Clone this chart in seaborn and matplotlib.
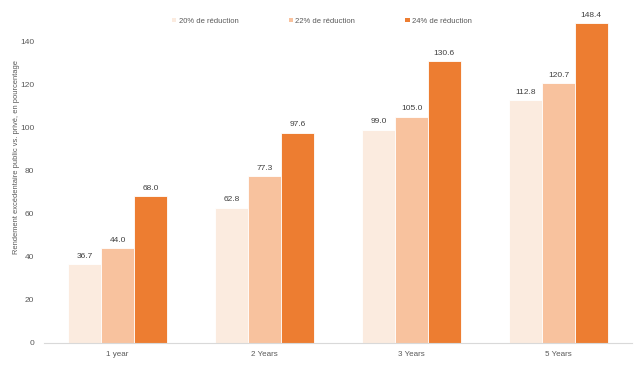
import matplotlib
matplotlib.use("Agg")
import matplotlib.pyplot as plt
import seaborn as sns
import pandas as pd
from matplotlib.patches import Patch

categories = ["1 year", "2 Years", "3 Years", "5 Years"]
series_names = ["20% de réduction", "22% de réduction", "24% de réduction"]
s20 = [36.7, 62.8, 99.0, 112.8]
s22 = [44.0, 77.3, 105.0, 120.7]
s24 = [68.0, 97.6, 130.6, 148.4]
colors = ["#FBEBDF", "#F8C29E", "#ED7D31"]
ylabel = "Rendement excédentaire public vs. privé, en pourcentage"

rows = []
for name, vals in zip(series_names, [s20, s22, s24]):
    for c, v in zip(categories, vals):
        rows.append({"cat": c, "series": name, "val": v})
df = pd.DataFrame(rows)

sns.set_style("white")
plt.rcParams["font.family"] = ["Liberation Sans", "DejaVu Sans"]

fig = plt.figure(figsize=(6.4, 3.69), dpi=100)
ax = fig.add_axes([0.069, 0.0705, 0.9185, 0.935])
sns.barplot(data=df, x="cat", y="val", hue="series", palette=colors,
            hue_order=series_names, order=categories, width=0.67,
            saturation=1, edgecolor="white", linewidth=0.6, ax=ax, legend=False)

for cont in ax.containers:
    ax.bar_label(cont, fmt="%.1f", fontsize=6, color="#404040", padding=3)

ax.set_ylim(0, 160)
ax.set_yticks(range(0, 161, 20))
ax.tick_params(axis="y", labelsize=6, labelcolor="#595959", length=0, pad=7)
ax.tick_params(axis="x", labelsize=5.8, labelcolor="#595959", length=0, pad=6)
ax.set_xlabel("")
ax.set_ylabel(ylabel, fontsize=5.4, color="#595959")
ax.yaxis.set_label_coords(-0.041, 0.539)
for s in ["top", "right", "left"]:
    ax.spines[s].set_visible(False)
ax.spines["bottom"].set_color("#D9D9D9")
ax.spines["bottom"].set_linewidth(0.8)

handles = [Patch(facecolor=c, edgecolor="none") for c in colors]
fig.legend(handles, series_names, loc="center", bbox_to_anchor=(0.503, 0.943),
           ncol=3, frameon=False, fontsize=5.5, handlelength=0.55, handleheight=0.55,
           handletextpad=0.3, columnspacing=6.6, labelcolor="#595959")

fig.savefig("out.png", dpi=100)
